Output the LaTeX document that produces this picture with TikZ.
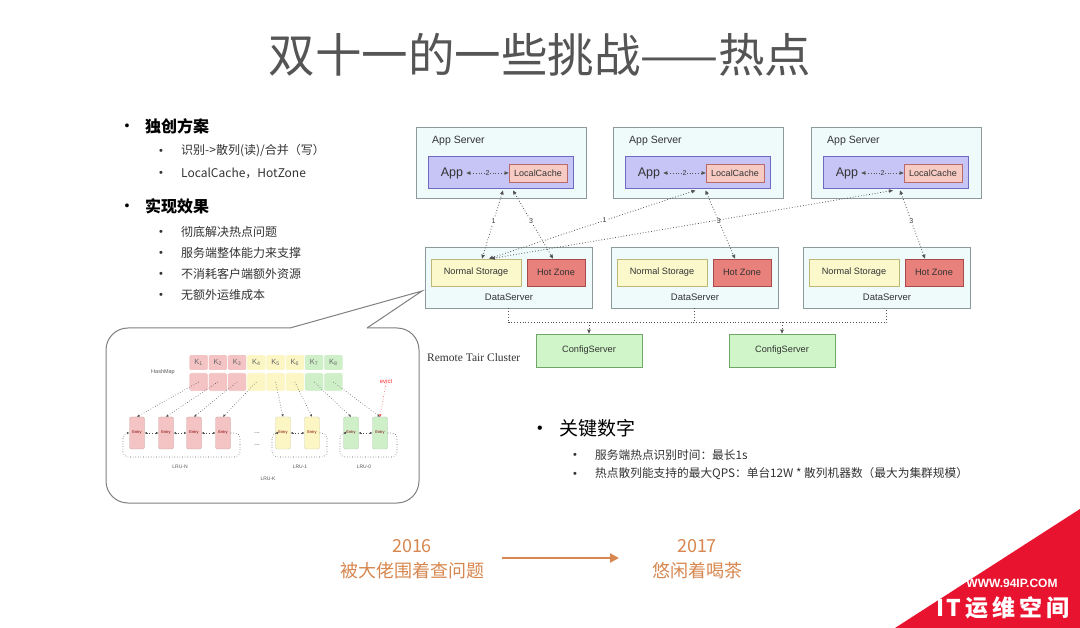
\documentclass[tikz,border=0pt]{standalone}
\usepackage{fontspec}
\setmainfont{Liberation Sans}
\newfontfamily\cjk{Noto Sans CJK SC}
\newfontfamily\serifz{Liberation Serif}
\usetikzlibrary{arrows.meta,calc}
\definecolor{titlec}{HTML}{555555}
\definecolor{txt}{HTML}{333333}
\definecolor{srvf}{HTML}{EFFAFB}
\definecolor{srvb}{HTML}{8C9A9C}
\definecolor{purf}{HTML}{C7C4F6}
\definecolor{purb}{HTML}{6E6AC4}
\definecolor{lcf}{HTML}{F7CBC3}
\definecolor{lcb}{HTML}{B86A6A}
\definecolor{nsf}{HTML}{FBF9CC}
\definecolor{nsb}{HTML}{BDB77A}
\definecolor{hzf}{HTML}{E8807B}
\definecolor{hzb}{HTML}{A64A4A}
\definecolor{cff}{HTML}{CFF5C8}
\definecolor{cfb}{HTML}{6FA866}
\definecolor{kpink}{HTML}{F4C3C3}
\definecolor{kyel}{HTML}{FBF6C3}
\definecolor{kgrn}{HTML}{CFEFC9}
\definecolor{orng}{HTML}{D7874F}
\definecolor{logored}{HTML}{E8142F}
\definecolor{linec}{HTML}{555555}
\begin{document}
\begin{tikzpicture}[x=1pt,y=-1pt,
  every node/.style={inner sep=0pt},
  srv/.style={draw=srvb,fill=srvf,line width=0.8pt,rectangle},
  pur/.style={draw=purb,fill=purf,line width=0.8pt,rectangle},
  lcs/.style={draw=lcb,fill=lcf,line width=0.7pt,rectangle,font=\fontsize{9}{10}\selectfont,text=txt},
  nsbox/.style={draw=nsb,fill=nsf,line width=0.7pt,rectangle,font=\fontsize{9.2}{10}\selectfont,text=txt},
  hzbox/.style={draw=hzb,fill=hzf,line width=0.7pt,rectangle,font=\fontsize{9.2}{10}\selectfont,text=txt},
  cfbox/.style={draw=cfb,fill=cff,line width=0.7pt,rectangle,font=\fontsize{9.2}{10}\selectfont,text=txt},
  lbl/.style={font=\fontsize{9.5}{11}\selectfont,text=txt},
  dotl/.style={draw=linec,dotted,line width=0.8pt},
  tipa/.style={-{Triangle[length=4pt,width=3.5pt]}},
  tipb/.style={{Triangle[length=4pt,width=3.5pt]}-{Triangle[length=4pt,width=3.5pt]}},
  tips/.style={-{Triangle[length=2.5pt,width=2.2pt]}},
  tipsb/.style={{Triangle[length=2.2pt,width=2pt]}-{Triangle[length=2.2pt,width=2pt]}},
  numl/.style={fill=white,inner sep=1pt,font=\fontsize{7}{8}\selectfont,text=txt},
  bdot/.style={anchor=base,font=\fontsize{11}{13}\selectfont,text=txt},
  bdotb/.style={anchor=base,font=\fontsize{14}{16}\selectfont,text=black},
  bhead/.style={anchor=west,font=\cjk\bfseries\fontsize{16}{18}\selectfont,text=black},
  bsub/.style={anchor=west,font=\cjk\fontsize{12}{14}\selectfont,text=txt},
  keyc/.style={rectangle,rounded corners=1.5pt,draw=white,line width=0.6pt,font=\fontsize{7.5}{8}\selectfont,text=black!60},
  entrybox/.style={rectangle,rounded corners=2pt,minimum width=15pt,minimum height=32pt,font=\fontsize{4}{5}\selectfont,text=red!50!black},
  tiny/.style={font=\fontsize{5}{6}\selectfont,text=black!65},
  orngt/.style={font=\cjk\fontsize{18}{20}\selectfont,text=orng}
]
\useasboundingbox (0,0) rectangle (1080,628);
\fill[white] (0,0) rectangle (1080,628);

% title
\node[font=\cjk\fontsize{46.5}{50}\selectfont,text=titlec] (title) at (540,55) {双十一的一些挑战——热点};

% left bullets
\node[bdotb] (d1) at (127,131) {•};
\node[bhead] (h1) at (145,126) {独创方案};
\node[bdot] (d11) at (161,155) {•};
\node[bsub] (s11) at (181,151) {识别->散列(读)/合并（写）};
\node[bdot] (d12) at (161,177) {•};
\node[bsub] (s12) at (181,173) {LocalCache，HotZone};
\node[bdotb] (d2) at (127,211) {•};
\node[bhead] (h2) at (145,206) {实现效果};
\node[bdot] (d21) at (161,236) {•};
\node[bsub] (s21) at (181,232) {彻底解决热点问题};
\node[bdot] (d22) at (161,257) {•};
\node[bsub] (s22) at (181,253) {服务端整体能力来支撑};
\node[bdot] (d23) at (161,278) {•};
\node[bsub] (s23) at (181,274) {不消耗客户端额外资源};
\node[bdot] (d24) at (161,299) {•};
\node[bsub] (s24) at (181,295) {无额外运维成本};

% app servers
\foreach \i/\dx in {1/0,2/197,3/395} {
  \node[srv,minimum width=170pt,minimum height=71pt] (as\i) at (501+\dx,162.5) {};
  \node[lbl,anchor=west,font=\fontsize{10.5}{12}\selectfont] (ast\i) at (432+\dx,141) {App Server};
  \node[pur,minimum width=145pt,minimum height=32pt] (pu\i) at (500.5+\dx,172) {};
  \node[lbl,font=\fontsize{12.5}{14}\selectfont] (app\i) at (452+\dx,173) {App};
  \node[lcs,minimum width=58pt,minimum height=18pt] (lc\i) at (538+\dx,173) {LocalCache};
  \draw[dotl,tipb] ([xshift=3pt]app\i.east) -- (lc\i.west) node[midway,numl,fill=purf] {2};
}

% data servers
\foreach \i/\dx in {1/0,2/186,3/378} {
  \node[srv,minimum width=167pt,minimum height=61pt] (ds\i) at (508.5+\dx,277.5) {};
  \node[nsbox,minimum width=90pt,minimum height=27pt] (ns\i) at (476+\dx,272.5) {Normal Storage};
  \node[hzbox,minimum width=58pt,minimum height=27pt] (hz\i) at (556+\dx,272.5) {Hot Zone};
  \node[lbl,font=\fontsize{9.5}{11}\selectfont] (dst\i) at (509+\dx,297) {DataServer};
}

% app <-> data arrows
\draw[dotl,tipb] ([xshift=2.5pt,yshift=-2pt]pu1.south) -- ([xshift=6pt]ns1.north) node[pos=0.45,numl] {1};
\draw[dotl,tipb] ([xshift=12.5pt,yshift=-2pt]pu1.south) -- ([xshift=-3pt]hz1.north) node[pos=0.45,numl] {3};
\draw[dotl,tipb] ([xshift=-2pt,yshift=-2pt]pu2.south) -- ([xshift=13pt]ns1.north) node[pos=0.44,numl] {1};
\draw[dotl,tipb] ([xshift=8pt,yshift=-2pt]pu2.south) -- ([xshift=-7pt]hz2.north) node[pos=0.45,numl] {3};
\draw[dotl,tipb] ([xshift=-2.5pt,yshift=-2pt]pu3.south) -- ([xshift=15pt]ns1.north);
\draw[dotl,tipb] ([xshift=4.5pt,yshift=-2pt]pu3.south) -- ([xshift=-9pt]hz3.north) node[pos=0.45,numl] {3};

% config servers
\node[cfbox,minimum width=106pt,minimum height=33pt] (cs1) at (589,350.5) {ConfigServer};
\node[cfbox,minimum width=106pt,minimum height=33pt] (cs2) at (782,350.5) {ConfigServer};
\node[anchor=west,font=\serifz\fontsize{11.5}{13}\selectfont,text=txt] (rtc) at (427,358) {Remote Tair Cluster};
\coordinate (bus) at (0,322);
\draw[dotl] (ds1.south) -- ++(0,14) -| (ds3.south);
\draw[dotl] (ds2.south) -- ++(0,14);
\draw[dotl,tipa] (cs1.north |- bus) -- (cs1.north);
\draw[dotl,tipa] (cs2.north |- bus) -- (cs2.north);

% speech bubble
\fill[white,rounded corners=22pt] (106,328) rectangle (419,503);
\draw[black!50,line width=1pt,rounded corners=22pt] (290,328) -- (106,328) -- (106,503) -- (419,503) -- (419,328) -- (367,328);
\draw[black!50,line width=1pt,line join=miter] (290,328) -- (422,291) -- (367,328);

\node[tiny,font=\fontsize{5.5}{6}\selectfont] (hm) at (163,372) {HashMap};
\foreach \i/\c in {1/kpink,2/kpink,3/kpink,4/kyel,5/kyel,6/kyel,7/kgrn,8/kgrn} {
  \node[keyc,fill=\c,minimum width=19pt,minimum height=16pt] (k\i) at ({189+19.25*(\i-0.5)},362.5) {K\textsubscript{\i}};
  \node[keyc,fill=\c,minimum width=19pt,minimum height=18.5pt] (p\i) at ({189+19.25*(\i-0.5)},382) {};
}
\foreach \i/\x/\c in {1/137/kpink,2/166/kpink,3/194/kpink,4/223/kpink,5/283/kyel,6/312/kyel,7/351/kgrn,8/380/kgrn} {
  \node[entrybox,fill=\c,draw=\c!85!black] (e\i) at (\x,433) {Entry};
}
\foreach \i in {1,...,8} {
  \draw[dotl,line width=0.6pt,tips] (p\i.center) -- (e\i.north);
}
\foreach \a/\b in {1/2,2/3,3/4,5/6,7/8} {
  \draw[dotl,line width=0.6pt,tipsb] (e\a.east) -- (e\b.west);
}
\draw[dotl,line width=0.6pt,rounded corners=5pt,tips] (e4.east) -- (240,433) -- (240,457) -- (123,457) -- (123,433) -- (e1.west);
\draw[dotl,line width=0.6pt,rounded corners=5pt,tips] (e6.east) -- (327,433) -- (327,457) -- (272,457) -- (272,433) -- (e5.west);
\draw[dotl,line width=0.6pt,rounded corners=5pt,tips] (e8.east) -- (397,433) -- (397,457) -- (340,457) -- (340,433) -- (e7.west);
\node[tiny,font=\fontsize{7}{7}\selectfont] (dots1) at (257,433) {...};
\node[tiny,font=\fontsize{7}{7}\selectfont] (dots2) at (257,445) {...};
\node[tiny] (lrun) at (180,467) {LRU-N};
\node[tiny] (lru1) at (300,467) {LRU-1};
\node[tiny] (lru0) at (364,467) {LRU-0};
\node[tiny] (lruk) at (268,479) {LRU-K};
\node[font=\fontsize{6}{7}\selectfont,text=red!80] (ev) at (386,381) {evict};
\draw[red!70,dotted,line width=0.6pt,tips] (ev.south) -- (e8.north);

% key numbers
\node[bdotb,font=\fontsize{16}{18}\selectfont] (d3) at (540,434) {•};
\node[anchor=west,font=\cjk\fontsize{19}{22}\selectfont,text=black] (h3) at (559,428) {关键数字};
\node[bdot] (d31) at (575,459) {•};
\node[bsub,font=\cjk\fontsize{11.7}{14}\selectfont] (s31) at (595,455) {服务端热点识别时间：最长1s};
\node[bdot] (d32) at (575,478) {•};
\node[bsub,font=\cjk\fontsize{11.7}{14}\selectfont] (s32) at (595,474) {热点散列能支持的最大QPS：单台12W * 散列机器数（最大为集群规模）};

% timeline
\node[orngt] (y16) at (412,546) {2016};
\node[orngt] (t16) at (412,571) {被大佬围着查问题};
\node[orngt] (y17) at (697,546) {2017};
\node[orngt] (t17) at (697,571) {悠闲着喝茶};
\coordinate (ta) at (502,558);
\coordinate (tb) at (619,558);
\draw[orng,line width=2.5pt,-{Triangle[length=9pt,width=9pt]}] (ta) -- (tb);

% logo corner
\fill[logored] (1080,509) -- (1080,628) -- (895,628) -- cycle;
\node[font=\bfseries\fontsize{12}{13}\selectfont,text=white] (www) at (1012,583) {WWW.94IP.COM};
\node[font=\cjk\bfseries\fontsize{23}{25}\selectfont,text=white] (itl) at (1003,608) {I\hspace{2pt}T\hspace{4pt}运\hspace{4pt}维\hspace{4pt}空\hspace{4pt}间};
\end{tikzpicture}
\end{document}
